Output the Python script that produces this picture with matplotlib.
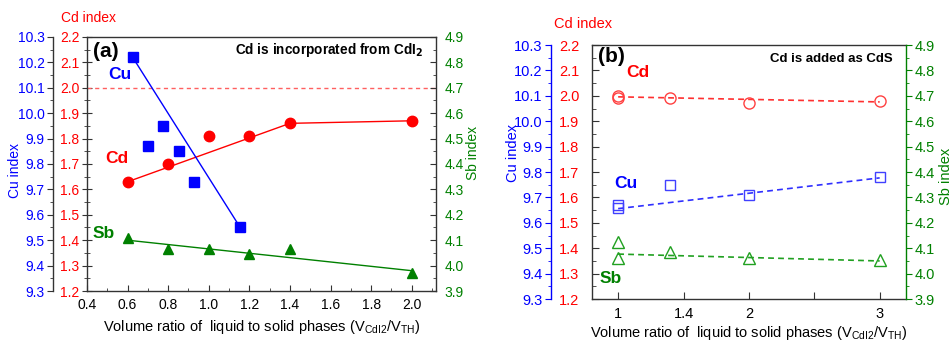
import matplotlib.pyplot as plt
from matplotlib.ticker import MultipleLocator

plt.rcParams['font.family'] = ['Liberation Sans', 'DejaVu Sans']

# (a) Cd incorporated from CdI2
a_cu_x = [0.625, 0.70, 0.775, 0.853, 0.927, 1.155]
a_cu_y = [10.22, 9.87, 9.95, 9.85, 9.73, 9.55]
a_x = [0.6, 0.8, 1.0, 1.2, 1.4, 2.0]
a_cd_y = [1.63, 1.70, 1.81, 1.81, 1.86, 1.87]
a_sb_y = [4.11, 4.065, 4.065, 4.045, 4.065, 3.97]
# guide lines drawn through the points
a_cu_line_x = [0.625, 1.155]
a_cu_line_y = [10.22, 9.55]
a_cd_line_x = [0.6, 1.4, 2.0]
a_cd_line_y = [1.63, 1.86, 1.87]
a_sb_line_x = [0.6, 2.0]
a_sb_line_y = [4.10, 3.98]
cd_nominal = 2.0

# (b) Cd added as CdS
b_x = [1, 1, 1.4, 2, 3]
b_cd_y = [2.00, 1.99, 1.99, 1.97, 1.98]
b_cu_y = [9.67, 9.66, 9.75, 9.71, 9.78]
b_sb_y = [4.125, 4.063, 4.087, 4.063, 4.054]
b_line_x = [1, 3]
b_cd_line = [1.996, 1.976]
b_cu_line = [9.656, 9.777]
b_sb_line = [4.077, 4.050]

a_xticks = [0.4, 0.6, 0.8, 1.0, 1.2, 1.4, 1.6, 1.8, 2.0]
b_xticks = [1, 1.5, 2, 2.5, 3]
b_xticklabels = ['1', '1.4', '2', '', '3']

BLUE = '#0000ff'
RED = '#ff0000'
GREEN = '#008000'
FRAME = '#333333'
FS = 10
xlabel = r'Volume ratio of  liquid to solid phases (V$_{\mathregular{CdI2}}$/V$_{\mathregular{TH}}$)'

fig = plt.figure(figsize=(9.51, 3.41), dpi=100)


def make_axes(rect, cu_offset):
    ax = fig.add_axes(rect)
    cu = ax.twinx()
    sb = ax.twinx()
    cu.spines['left'].set_visible(True)
    cu.spines['left'].set_position(('outward', cu_offset))
    for s in ['right', 'top', 'bottom']:
        cu.spines[s].set_visible(False)
    cu.yaxis.set_ticks_position('left')
    cu.yaxis.set_label_position('left')
    for s in ['left', 'top', 'bottom']:
        sb.spines[s].set_visible(False)
    ax.spines['right'].set_visible(False)
    for a in (ax, cu, sb):
        for s in a.spines.values():
            s.set_color(FRAME)
            s.set_linewidth(1.0)
    ax.set_ylim(1.2, 2.2)
    cu.set_ylim(9.3, 10.3)
    sb.set_ylim(3.9, 4.9)
    for a in (ax, cu, sb):
        a.yaxis.set_major_locator(MultipleLocator(0.1))
        a.yaxis.set_minor_locator(MultipleLocator(0.05))
        a.yaxis.set_major_formatter('{x:.1f}')
    return ax, cu, sb


# ---------- panel (a) ----------
ax, cu, sb = make_axes([0.0915, 0.1466, 0.367, 0.745], 24.5)
ax.set_xlim(0.4, 2.12)
ax.set_xticks(a_xticks)
ax.xaxis.set_major_formatter('{x:.1f}')
ax.xaxis.set_minor_locator(MultipleLocator(0.1))
ax.tick_params(axis='x', which='both', direction='in', top=False, labelsize=FS, pad=5, color=FRAME)
ax.tick_params(axis='x', which='major', length=4)
ax.tick_params(axis='x', which='minor', length=2.5)
ax.tick_params(axis='y', which='both', direction='inout', labelcolor=RED, labelsize=FS, pad=2, color=FRAME)
ax.tick_params(axis='y', which='major', length=7)
ax.tick_params(axis='y', which='minor', length=4)
cu.tick_params(axis='y', which='both', direction='out', labelcolor=BLUE, labelsize=FS, pad=2, color=FRAME)
cu.tick_params(axis='y', which='major', length=4)
cu.tick_params(axis='y', which='minor', length=2.5)
sb.tick_params(axis='y', which='both', direction='in', labelcolor=GREEN, labelsize=FS, pad=6, color=FRAME)
sb.tick_params(axis='y', which='major', length=4)
sb.tick_params(axis='y', which='minor', length=2.5)

ax.axhline(cd_nominal, color='#ff6060', ls=(0, (3, 2.5)), lw=1)
ax.plot(a_cd_line_x, a_cd_line_y, color=RED, lw=1)
ax.plot(a_x, a_cd_y, 'o', color=RED, ms=7.5, mec=RED)
cu.plot(a_cu_line_x, a_cu_line_y, color=BLUE, lw=1)
cu.plot(a_cu_x, a_cu_y, 's', color=BLUE, ms=6.5)
sb.plot(a_sb_line_x, a_sb_line_y, color=GREEN, lw=1)
sb.plot(a_x, a_sb_y, '^', color=GREEN, ms=7.5)

ax.set_xlabel(xlabel, fontsize=10.5, labelpad=4)
ax.text(0.003, 1.075, 'Cd index', color=RED, fontsize=FS, ha='center', va='center', transform=ax.transAxes)
ax.text(-0.206, 0.476, 'Cu index', color=BLUE, fontsize=FS, rotation=90, ha='center', va='center', transform=ax.transAxes)
ax.text(1.106, 0.543, 'Sb index', color=GREEN, fontsize=FS, rotation=90, ha='center', va='center', transform=ax.transAxes)
sb.text(0.017, 0.941, '(a)', fontsize=15, fontweight='bold', ha='left', va='center', transform=ax.transAxes)
sb.text(0.963, 0.949, r'Cd is incorporated from CdI$_\mathbf{2}$', fontsize=9.8, fontweight='bold', ha='right', va='center', transform=ax.transAxes)
sb.text(0.095, 0.854, 'Cu', color=BLUE, fontsize=12.5, fontweight='bold', ha='center', va='center', transform=ax.transAxes)
sb.text(0.086, 0.520, 'Cd', color=RED, fontsize=12.5, fontweight='bold', ha='center', va='center', transform=ax.transAxes)
sb.text(0.049, 0.228, 'Sb', color=GREEN, fontsize=12.5, fontweight='bold', ha='center', va='center', transform=ax.transAxes)

# ---------- panel (b) ----------
bx, bcu, bsb = make_axes([0.6225, 0.123, 0.330, 0.745], 29.5)
bx.set_xlim(0.8, 3.2)
bx.set_xticks(b_xticks)
bx.set_xticklabels(b_xticklabels)
bx.tick_params(axis='x', which='both', direction='in', top=False, labelsize=FS + 0.5, pad=6, length=5, color=FRAME)
bx.tick_params(axis='y', which='both', direction='in', labelcolor=RED, labelsize=FS + 0.5, pad=9, color=FRAME)
bx.tick_params(axis='y', which='major', length=5)
bx.tick_params(axis='y', which='minor', length=3)
bcu.spines['left'].set_color(BLUE)
bcu.tick_params(axis='y', which='both', direction='out', labelcolor=BLUE, labelsize=FS + 0.5, pad=2, color=BLUE)
bcu.tick_params(axis='y', which='major', length=4)
bcu.tick_params(axis='y', which='minor', length=2.5)
bsb.spines['right'].set_color(GREEN)
bsb.tick_params(axis='y', which='both', direction='out', labelcolor=GREEN, labelsize=FS + 0.5, pad=2, color=GREEN)
bsb.tick_params(axis='y', which='major', length=4)
bsb.tick_params(axis='y', which='minor', length=2.5)

dash = (0, (3.5, 2.5))
bx.plot(b_line_x, b_cd_line, color='#ff3030', ls=dash, lw=1.2)
bx.plot(b_x, b_cd_y, 'o', mfc='none', mec='#ff4040', ms=8, mew=1)
bcu.plot(b_line_x, b_cu_line, color='#3030ff', ls=dash, lw=1.2)
bcu.plot(b_x, b_cu_y, 's', mfc='none', mec='#4040ff', ms=7.5, mew=1)
bsb.plot(b_line_x, b_sb_line, color='#20a020', ls=dash, lw=1.2)
bsb.plot(b_x, b_sb_y, '^', mfc='none', mec='#20a020', ms=8.5, mew=1)

bx.set_xlabel(xlabel, fontsize=10.5, labelpad=2)
bx.text(-0.029, 1.083, 'Cd index', color=RED, fontsize=FS + 0.5, ha='center', va='center', transform=bx.transAxes)
bx.text(-0.252, 0.575, 'Cu index', color=BLUE, fontsize=FS + 0.5, rotation=90, ha='center', va='center', transform=bx.transAxes)
bx.text(1.127, 0.484, 'Sb index', color=GREEN, fontsize=FS + 0.5, rotation=90, ha='center', va='center', transform=bx.transAxes)
bsb.text(0.019, 0.953, '(b)', fontsize=15, fontweight='bold', ha='left', va='center', transform=bx.transAxes)
bsb.text(0.959, 0.945, 'Cd is added as CdS', fontsize=9.5, fontweight='bold', ha='right', va='center', transform=bx.transAxes)
bsb.text(0.146, 0.890, 'Cd', color=RED, fontsize=12.5, fontweight='bold', ha='center', va='center', transform=bx.transAxes)
bsb.text(0.108, 0.453, 'Cu', color=BLUE, fontsize=12.5, fontweight='bold', ha='center', va='center', transform=bx.transAxes)
bsb.text(0.061, 0.079, 'Sb', color=GREEN, fontsize=12.5, fontweight='bold', ha='center', va='center', transform=bx.transAxes)

fig.savefig('out.png', dpi=100)
